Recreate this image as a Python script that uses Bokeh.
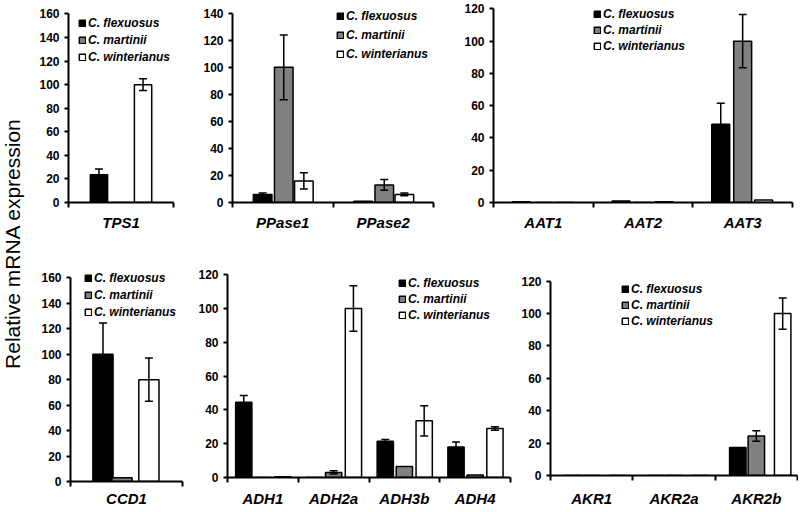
import math
from bokeh.plotting import figure
from bokeh.models import (Range1d, FixedTicker, ColumnDataSource, Whisker, TeeHead,
                          Legend, LegendItem, Label)
from bokeh.layouts import row, column
from bokeh.embed import file_html
from bokeh.resources import INLINE

# ---------------- data ----------------
species = ["C. flexuosus", "C. martinii", "C. winterianus"]
fill_colors = ["#000000", "#808080", "#ffffff"]

tps_genes = ["TPS1"]
tps_flex = [23.5]
tps_mart = [0]
tps_wint = [100]
tps_flex_err = [5]
tps_mart_err = [0]
tps_wint_err = [5]

ppase_genes = ["PPase1", "PPase2"]
ppase_flex = [6, 1]
ppase_mart = [100, 13]
ppase_wint = [16, 6]
ppase_flex_err = [1, 0]
ppase_mart_err = [24, 4]
ppase_wint_err = [6, 1]

aat_genes = ["AAT1", "AAT2", "AAT3"]
aat_flex = [0.5, 1, 48.5]
aat_mart = [0, 0, 100]
aat_wint = [0, 0.5, 1.5]
aat_flex_err = [0, 0, 13]
aat_mart_err = [0, 0, 16.5]
aat_wint_err = [0, 0, 0]

ccd_genes = ["CCD1"]
ccd_flex = [100]
ccd_mart = [3]
ccd_wint = [80]
ccd_flex_err = [24.5]
ccd_mart_err = [0]
ccd_wint_err = [17]

adh_genes = ["ADH1", "ADH2a", "ADH3b", "ADH4"]
adh_flex = [44.5, 0, 21.5, 18]
adh_mart = [0, 3, 6.5, 1.5]
adh_wint = [0.5, 100, 33.5, 29]
adh_flex_err = [4, 0, 1, 3]
adh_mart_err = [0, 1, 0, 0]
adh_wint_err = [0, 13.5, 9, 1]

akr_genes = ["AKR1", "AKR2a", "AKR2b"]
akr_flex = [0, 0, 17.3]
akr_mart = [0, 0, 24.4]
akr_wint = [0, 0, 100]
akr_flex_err = [0, 0, 0]
akr_mart_err = [0, 0, 3.3]
akr_wint_err = [0, 0, 9.6]

FONT = "Liberation Sans"
ROW_H = 255


def panel(genes, vals, errs, ymax, yend, hgeom, vgeom, standoff, offsets, bar_w, leg):
    bl, fw, br = hgeom
    ytop_px, ybot_px = vgeom          # pixel rows (within the row) of ymax and of 0
    scale = (ybot_px - ytop_px) / ymax
    fh = round(yend * scale)
    bt = ybot_px - fh
    bb = ROW_H - ybot_px
    n = len(genes)
    p = figure(width=bl + fw + br, height=ROW_H, output_backend="svg",
               toolbar_location=None, x_range=Range1d(0, n), y_range=Range1d(0, yend),
               min_border_left=bl, min_border_right=br, min_border_top=bt,
               min_border_bottom=bb, frame_align=False)
    p.outline_line_color = None
    p.grid.visible = False
    p.background_fill_color = "white"

    rends = []
    for k in range(3):
        xs = [i + 0.5 + offsets[k] for i in range(n)]
        src = ColumnDataSource(dict(x=xs, top=vals[k]))
        r = p.vbar(x="x", top="top", bottom=0, width=bar_w, source=src,
                   fill_color=fill_colors[k], line_color="black", line_width=1.5)
        rends.append(r)
        ex = [x for x, e in zip(xs, errs[k]) if e > 0]
        eu = [v + e for v, e in zip(vals[k], errs[k]) if e > 0]
        el = [v - e for v, e in zip(vals[k], errs[k]) if e > 0]
        if ex:
            wsrc = ColumnDataSource(dict(base=ex, upper=eu, lower=el))
            w = Whisker(base="base", upper="upper", lower="lower", source=wsrc,
                        dimension="height", level="annotation",
                        line_color="black", line_width=1.5,
                        upper_head=TeeHead(size=8, line_width=1.5, line_color="black"),
                        lower_head=TeeHead(size=8, line_width=1.5, line_color="black"))
            p.add_layout(w)

    # x axis: labels at centers, tick marks at category boundaries
    xa = p.xaxis[0]
    xa.ticker = FixedTicker(ticks=[i + 0.5 for i in range(n)],
                            minor_ticks=[float(i) for i in range(n + 1)])
    xa.major_label_overrides = {i + 0.5: g for i, g in enumerate(genes)}
    xa.major_tick_line_color = None
    xa.major_tick_out = 0
    xa.major_tick_in = 0
    xa.minor_tick_out = 5
    xa.minor_tick_in = 0
    xa.minor_tick_line_width = 2
    xa.minor_tick_line_color = "black"
    xa.axis_line_width = 2
    xa.axis_line_color = "black"
    xa.major_label_text_font = FONT
    xa.major_label_text_font_style = "bold italic"
    xa.major_label_text_font_size = "15px"
    xa.major_label_text_color = "black"
    xa.major_label_standoff = standoff

    ya = p.yaxis[0]
    ya.ticker = FixedTicker(ticks=list(range(0, ymax + 1, 20)))
    ya.bounds = (0, ymax)
    ya.minor_tick_line_color = None
    ya.major_tick_out = 4
    ya.major_tick_in = 0
    ya.major_tick_line_width = 2
    ya.axis_line_width = 2
    ya.major_label_text_font = FONT
    ya.major_label_text_font_style = "bold"
    ya.major_label_text_font_size = "12px"
    ya.major_label_text_color = "black"
    ya.major_label_standoff = 5

    loc, lh, sp = leg
    legend = Legend(items=[LegendItem(label=species[k], renderers=[rends[k]]) for k in range(3)],
                    location=loc, label_height=lh, spacing=sp, glyph_width=8, glyph_height=8,
                    label_standoff=2, padding=0, margin=0, border_line_color=None,
                    background_fill_alpha=0, label_text_font=FONT,
                    label_text_font_style="bold italic", label_text_font_size="12px",
                    label_text_color="black")
    p.add_layout(legend)
    return p


pA = panel(tps_genes, [tps_flex, tps_mart, tps_wint], [tps_flex_err, tps_mart_err, tps_wint_err],
           160, 168, (36, 105, 19), (13, 202), 6, (-0.21, 0.0, 0.21), 0.165, ((10, 137), 17, 0))
pB = panel(ppase_genes, [ppase_flex, ppase_mart, ppase_wint],
           [ppase_flex_err, ppase_mart_err, ppase_wint_err],
           140, 148, (40, 201, 20), (13, 202), 6, (-0.2, 0.01, 0.21), 0.185, ((104, 140), 17, 2))
pC = panel(aat_genes, [aat_flex, aat_mart, aat_wint], [aat_flex_err, aat_mart_err, aat_wint_err],
           120, 124, (40, 299, 6), (8, 202), 6, (-0.22, 0.0, 0.21), 0.18, ((100, 148), 16, 0))

pD = panel(ccd_genes, [ccd_flex, ccd_mart, ccd_wint], [ccd_flex_err, ccd_mart_err, ccd_wint_err],
           160, 172, (38, 112, 5), (22, 226), 3, (-0.21, -0.04, 0.2), 0.18, ((14, 161), 17, 0))
pE = panel(adh_genes, [adh_flex, adh_mart, adh_wint], [adh_flex_err, adh_mart_err, adh_wint_err],
           120, 126, (40, 283, 2), (19, 222), 7, (-0.27, 0.0, 0.28), 0.23, ((171, 154), 16, 0))
pF = panel(akr_genes, [akr_flex, akr_mart, akr_wint], [akr_flex_err, akr_mart_err, akr_wint_err],
           120, 126, (38, 247, 1), (26, 220), 9, (-0.225, 0.0, 0.32), 0.2, ((71, 146), 16, 0))

# y label panel
lab = figure(width=32, height=2 * ROW_H, output_backend="svg", toolbar_location=None,
             x_range=Range1d(0, 1), y_range=Range1d(0, 1), frame_align=False,
             min_border_left=0, min_border_right=0, min_border_top=0, min_border_bottom=0)
lab.axis.visible = False
lab.grid.visible = False
lab.outline_line_color = None
lab.add_layout(Label(x=12, y=2 * ROW_H - 243, x_units="screen", y_units="screen",
                     text="Relative mRNA expression", angle=math.pi / 2,
                     text_align="center", text_baseline="middle",
                     text_font=FONT, text_font_size="21px", text_color="black"))

layout = row(lab, column(row(pA, pB, pC), row(pD, pE, pF)))

open("out.html", "w").write(file_html(layout, INLINE))
